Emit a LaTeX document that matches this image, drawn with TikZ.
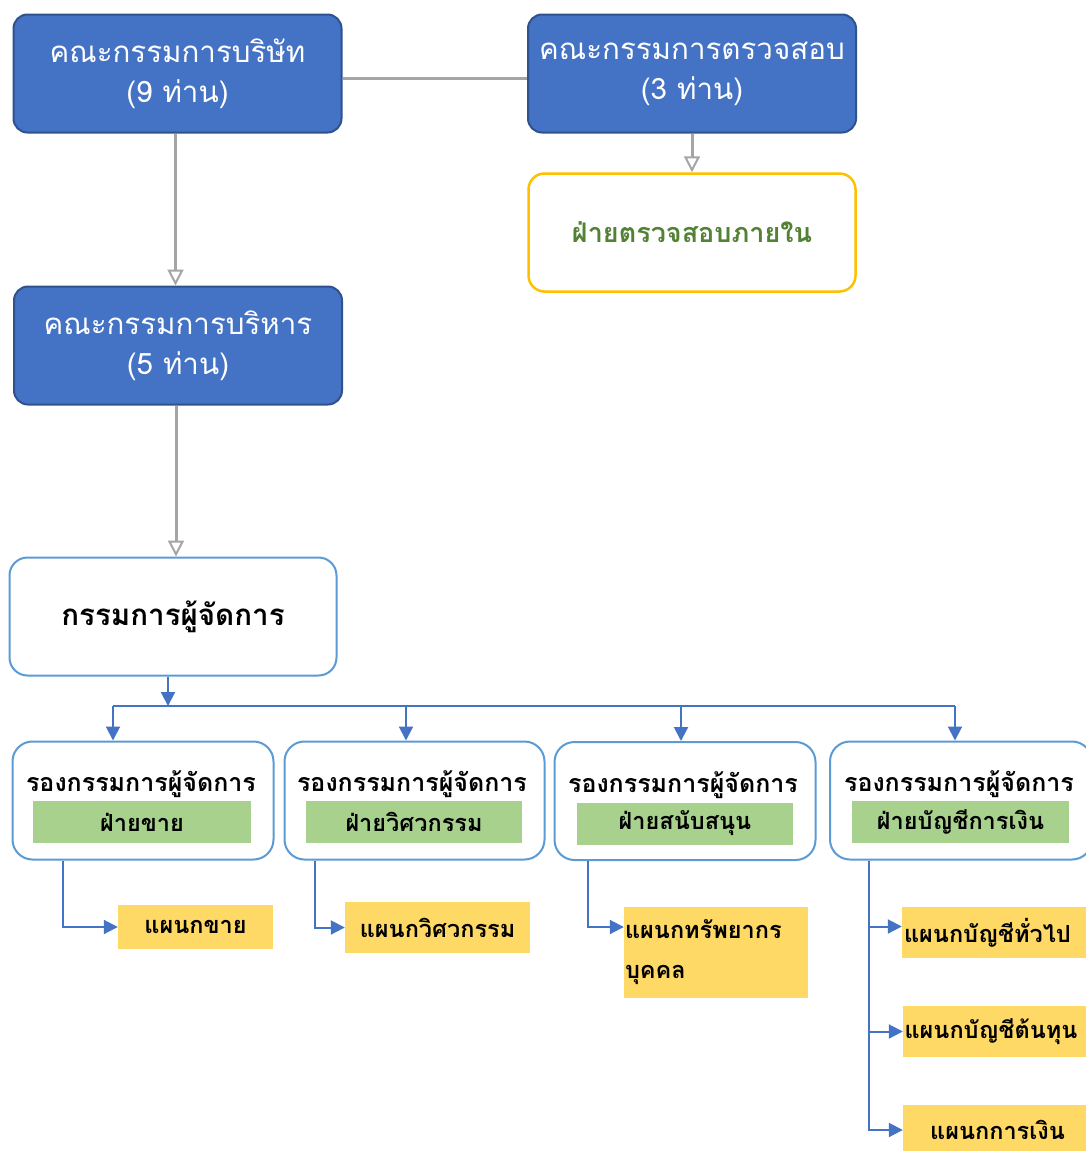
\documentclass[tikz,border=0pt]{standalone}
\usepackage{fontspec}
\newfontfamily\thai[Script=Thai]{Loma}
\usetikzlibrary{arrows.meta}
\definecolor{boardblue}{HTML}{4472C4}
\definecolor{boardedge}{HTML}{2F528F}
\definecolor{lightblue}{HTML}{5B9BD5}
\definecolor{gold}{HTML}{FFC000}
\definecolor{darkgreen}{HTML}{548235}
\definecolor{greenbar}{HTML}{A9D18E}
\definecolor{yellowbox}{HTML}{FFD966}
\definecolor{graylink}{HTML}{A5A5A5}
\begin{document}
\begin{tikzpicture}[x=1pt,y=-1pt,
  boardbox/.style={draw=boardedge, line width=2pt, fill=boardblue, rounded corners=14pt,
    minimum width=328pt, minimum height=118pt, inner sep=0pt, text=white, align=center,
    font=\thai\fontsize{29.5}{40}\selectfont},
  auditbox/.style={draw=gold, line width=2.5pt, fill=white, rounded corners=16pt,
    minimum width=327pt, minimum height=118pt, inner sep=0pt, text=darkgreen,
    font=\thai\bfseries\fontsize{27}{34}\selectfont},
  mdbox/.style={draw=lightblue, line width=2pt, fill=white, rounded corners=18pt,
    minimum width=327pt, minimum height=118pt, inner sep=0pt,
    font=\thai\bfseries\fontsize{29.5}{34}\selectfont},
  vpbox/.style={draw=lightblue, line width=2pt, fill=white, rounded corners=20pt,
    minimum height=118pt, inner sep=0pt},
  vptitle/.style={inner sep=0pt, font=\thai\bfseries\fontsize{25}{30}\selectfont},
  greenlabel/.style={fill=greenbar, minimum width=217pt, minimum height=42pt, inner sep=0pt,
    font=\thai\bfseries\fontsize{23.5}{28}\selectfont},
  deptbox/.style={fill=yellowbox, inner sep=0pt, font=\thai\bfseries\fontsize{23.5}{40}\selectfont},
  grayline/.style={draw=graylink, line width=3pt},
  grayarrow/.style={grayline, -{Triangle[open, length=16pt, width=16pt, line width=2pt]}},
  blueline/.style={draw=boardblue, line width=2pt},
  bluearrow/.style={blueline, -{Triangle[length=14pt, width=14pt]}}
]
\useasboundingbox[fill=white] (0,0) rectangle (1086,1151);

% top level
\node[boardbox] (board) at (177.5,73.5) {คณะกรรมการบริษัท\\(9 ท่าน)};
\node[boardbox] (audit) at (692,73.5) {คณะกรรมการตรวจสอบ\\(3 ท่าน)};
\node[auditbox] (internal) at (692,232.5) {ฝ่ายตรวจสอบภายใน};
\node[boardbox] (exec) at (178,345.5) {คณะกรรมการบริหาร\\(5 ท่าน)};
\node[mdbox] (md) at (173,616.5) {กรรมการผู้จัดการ};

\draw[grayline] ([yshift=-4.5pt]board.east) -- ([yshift=-4.5pt]audit.west);
\draw[grayarrow] ([xshift=-2pt]board.south) -- ([xshift=-2pt]board.south |- exec.north);
\draw[grayarrow] (audit.south) -- (internal.north);
\draw[grayarrow] ([xshift=-2pt]exec.south) -- ([xshift=-2pt]exec.south |- md.north);

% vice presidents
\node[vpbox, minimum width=261pt] (vp1) at (143,800.5) {};
\node[vpbox, minimum width=260pt] (vp2) at (414.5,800.5) {};
\node[vpbox, minimum width=261pt] (vp3) at (685,801) {};
\node[vpbox, minimum width=262pt] (vp4) at (961,800.5) {};

\node[vptitle] (vp1t) at (141,784) {รองกรรมการผู้จัดการ};
\node[vptitle] (vp2t) at (412,784) {รองกรรมการผู้จัดการ};
\node[vptitle] (vp3t) at (683,785) {รองกรรมการผู้จัดการ};
\node[vptitle] (vp4t) at (959,784) {รองกรรมการผู้จัดการ};

\node[greenlabel, minimum width=218pt] (g1) at (142,822) {ฝ่ายขาย};
\node[greenlabel, minimum width=216pt] (g2) at (414,822) {ฝ่ายวิศวกรรม};
\node[greenlabel, minimum width=216pt] (g3) at (685,823.5) {ฝ่ายสนับสนุน};
\node[greenlabel, minimum width=217pt] (g4) at (960.5,822) {ฝ่ายบัญชีการเงิน};

% bus from managing director
\coordinate (busM) at (168,706);
\coordinate (b1) at (113,706);
\coordinate (b2) at (406,706);
\coordinate (b3) at (681,706);
\coordinate (b4) at (955,706);
\draw[bluearrow] (md.south -| busM) -- (busM);
\draw[blueline] (b1) -- (b4);
\draw[bluearrow] (b1) -- (b1 |- vp1.north);
\draw[bluearrow] (b2) -- (b2 |- vp2.north);
\draw[bluearrow] (b3) -- (b3 |- vp3.north);
\draw[bluearrow] (b4) -- (b4 |- vp4.north);

% departments
\node[deptbox, minimum width=155pt, minimum height=44pt] (d1) at (195.5,927) {แผนกขาย};
\node[deptbox, minimum width=185pt, minimum height=51pt] (d2) at (437.5,927.5) {แผนกวิศวกรรม};
\node[deptbox, minimum width=184pt, minimum height=91pt, text width=182pt, align=left] (d3) at (716,952.5) {แผนกทรัพยากร\\บุคคล};
\node[deptbox, minimum width=190pt, minimum height=51pt, text width=186pt, align=left] (d4) at (997,932.5) {แผนกบัญชีทั่วไป};
\node[deptbox, minimum width=189pt, minimum height=51pt, text width=186pt, align=left] (d5) at (997.5,1031.5) {แผนกบัญชีต้นทุน};
\node[deptbox, minimum width=189pt, minimum height=50pt] (d6) at (997.5,1130) {แผนกการเงิน};

\coordinate (t1) at ([xshift=-80pt]vp1.south);
\coordinate (t2) at ([xshift=-99.5pt]vp2.south);
\coordinate (t3) at ([xshift=-97pt]vp3.south);
\coordinate (t4) at ([xshift=-92pt]vp4.south);
\draw[bluearrow] (t1) |- (d1.west);
\draw[bluearrow] (t2) |- (d2.west);
\draw[bluearrow] (t3) |- (d3.west |- d1.west);
\draw[bluearrow] (t4) |- ([yshift=6pt]d4.west);
\draw[bluearrow] (t4) |- (d5.west);
\draw[bluearrow] (t4) |- (d6.west);
\end{tikzpicture}
\end{document}
